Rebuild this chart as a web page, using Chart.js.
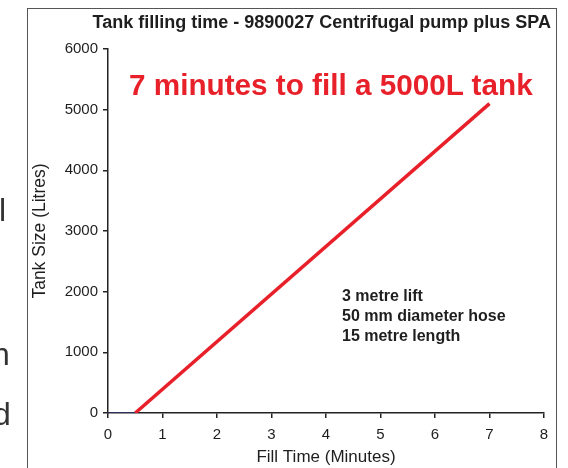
<!DOCTYPE html>
<html>
<head>
<meta charset="utf-8">
<script src="https://cdn.jsdelivr.net/npm/chart.js@4.4.1/dist/chart.umd.min.js"></script>
<style>
    html, body { margin: 0; padding: 0; background: #fff; }
    body { width: 568px; height: 468px; position: relative; overflow: hidden; font-family: "Liberation Sans", Arial, sans-serif; }
    #chart { position: absolute; left: 0; top: 0; }
    .frame { position: absolute; left: 27px; top: 8px; width: 530px; height: 480px; border: 1.5px solid #555; box-sizing: border-box; }
    .txt { position: absolute; white-space: nowrap; }
    .title { right: 17px; top: 12px; font-size: 18px; line-height: 20px; font-weight: bold; color: #1e1e1e; }
    .callout { left: 129px; top: 68px; font-size: 29.7px; line-height: 34px; font-weight: bold; color: #e8202a; }
    .notes { left: 342px; top: 286px; font-size: 16px; line-height: 20px; font-weight: bold; color: #1e1e1e; }
    .frag { font-size: 32px; line-height: 36px; color: #333; }
</style>
</head>
<body>
<canvas id="chart" width="568" height="468"></canvas>
<div class="frame"></div>
<div class="txt title">Tank filling time - 9890027 Centrifugal pump plus SPA</div>
<div class="txt callout">7 minutes to fill a 5000L tank</div>
<div class="txt notes">3 metre lift<br>50 mm diameter hose<br>15 metre length</div>
<!-- clipped letters from the neighbouring page column -->
<div class="txt frag" style="left:-1px; top:192px;">l</div>
<div class="txt frag" style="left:-8px; top:336px;">n</div>
<div class="txt frag" style="left:-7px; top:396px;">d</div>

<script>
// Data
const idleTime = [0, 0.5];
const idleLitres = [0, 0];
const fillTime = [0.5, 7];
const fillLitres = [0, 5100];

const xMin = 0, xMax = 8, xStep = 1;
const yMin = 0, yMax = 6000, yStep = 1000;

const toPoints = (xs, ys) => xs.map((x, i) => ({ x: x, y: ys[i] }));

document.addEventListener('DOMContentLoaded', () => {
    const ctx = document.getElementById('chart');

    Chart.defaults.font.family = '"Liberation Sans", Arial, sans-serif';
    Chart.defaults.color = '#1e1e1e';

    new Chart(ctx, {
        type: 'scatter',
        data: {
            datasets: [{
                label: 'Idle',
                data: toPoints(idleTime, idleLitres),
                showLine: true,
                borderColor: '#33367a',
                borderWidth: 1.5,
                pointRadius: 0
            }, {
                label: 'Filling',
                data: toPoints(fillTime, fillLitres),
                showLine: true,
                borderColor: '#e8202a',
                borderWidth: 3.5,
                pointRadius: 0
            }]
        },
        options: {
            responsive: false,
            animation: false,
            layout: {
                padding: { left: 30, top: 49, right: 24, bottom: 0 }
            },
            plugins: {
                legend: { display: false },
                tooltip: { enabled: false }
            },
            scales: {
                x: {
                    type: 'linear',
                    min: xMin,
                    max: xMax,
                    afterFit: (scale) => { scale.height = 55; },
                    ticks: {
                        stepSize: xStep,
                        padding: 8,
                        font: { size: 15 },
                        color: '#1e1e1e',
                        callback: (v) => String(v)
                    },
                    grid: {
                        drawOnChartArea: false,
                        drawTicks: true,
                        tickLength: 5,
                        color: '#222',
                        lineWidth: 1.5
                    },
                    border: { display: true, color: '#222', width: 1.5 },
                    title: {
                        display: true,
                        text: 'Fill Time (Minutes)',
                        font: { size: 17 },
                        color: '#1e1e1e',
                        padding: { top: 0, bottom: 0 }
                    }
                },
                y: {
                    type: 'linear',
                    min: yMin,
                    max: yMax,
                    afterFit: (scale) => { scale.width = 78; },
                    ticks: {
                        stepSize: yStep,
                        padding: 5,
                        font: { size: 15 },
                        color: '#1e1e1e',
                        callback: (v) => String(v)
                    },
                    grid: {
                        drawOnChartArea: false,
                        drawTicks: true,
                        tickLength: 5,
                        color: '#222',
                        lineWidth: 1.5
                    },
                    border: { display: true, color: '#222', width: 1.5 },
                    title: {
                        display: true,
                        text: 'Tank Size (Litres)',
                        font: { size: 17.5 },
                        color: '#1e1e1e',
                        padding: { top: 0, bottom: 0 }
                    }
                }
            }
        }
    });
});
</script>
</body>
</html>
